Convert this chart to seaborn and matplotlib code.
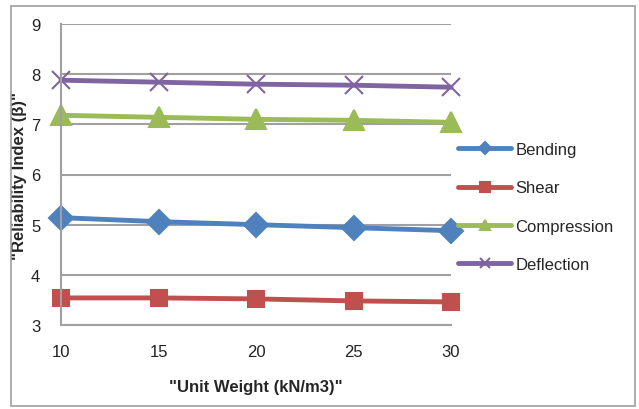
import pandas as pd
import matplotlib.pyplot as plt
import seaborn as sns
from matplotlib.patches import Rectangle

sns.set_style("white")
plt.rcParams['font.family'] = ['Liberation Sans', 'DejaVu Sans']

# valores
unit_weight = [10, 15, 20, 25, 30]
bending = [5.14, 5.06, 5.00, 4.94, 4.88]
shear = [3.54, 3.54, 3.52, 3.48, 3.46]
compression = [7.18, 7.14, 7.10, 7.08, 7.04]
deflection = [7.88, 7.84, 7.80, 7.78, 7.74]

series = ["Bending", "Shear", "Compression", "Deflection"]
valores = [bending, shear, compression, deflection]

cores = ["#4F81BD", "#C0504D", "#9BBB59", "#8064A2"]
marcadores = ["D", "s", "^", "x"]
tamanhos = [12, 12, 14, 13]

fig = plt.figure(figsize=(6.39, 4.10), dpi=100)
ax = fig.add_axes([61/639, 1 - 326/410, 390/639, 301/410])

for nome, vals, cor, mk, ms in zip(series, valores, cores, marcadores, tamanhos):
    sns.lineplot(x=unit_weight, y=vals, color=cor, marker=mk, markersize=ms,
                 markeredgewidth=1.5, markeredgecolor=cor, linewidth=3.5,
                 label=nome, ax=ax, clip_on=False)

ax.set_xlim(10, 30)
ax.set_ylim(3, 9)
ax.set_xticks(unit_weight)
ax.set_yticks(range(3, 10))
ax.yaxis.grid(True, color="#A0A0A0", linewidth=1.5)
ax.set_axisbelow(True)
for s in ["top", "right"]:
    ax.spines[s].set_visible(False)
for s in ["left", "bottom"]:
    ax.spines[s].set_color("#A0A0A0")
    ax.spines[s].set_linewidth(1.5)
ax.tick_params(axis="both", length=6, width=1.5, color="#A0A0A0",
               labelsize=12, labelcolor="#222222", pad=8)
ax.tick_params(axis="y", pad=9)

ax.set_xlabel('"Unit Weight (kN/m3)"', fontsize=12, fontweight="bold", labelpad=14)
ax.set_ylabel('"Reliability Index (β)"', fontsize=12, fontweight="bold")
# um pouco mais a esquerda para nao cobrir os numeros do eixo
ax.yaxis.set_label_coords(-0.086, 0.5)

handles, labels = ax.get_legend_handles_labels()
ax.legend(handles, labels, loc="center left", bbox_to_anchor=(1.018, 0.392),
          frameon=False, fontsize=12, markerscale=0.55, handlelength=3.2,
          handletextpad=0.25, labelspacing=1.4, borderpad=0, borderaxespad=0)

fig.patches.append(Rectangle((11/639, 3/410), 624/639, 400/410, transform=fig.transFigure,
                             fill=False, edgecolor="#A0A0A0", linewidth=1.2))

fig.savefig("out.png", dpi=100)
